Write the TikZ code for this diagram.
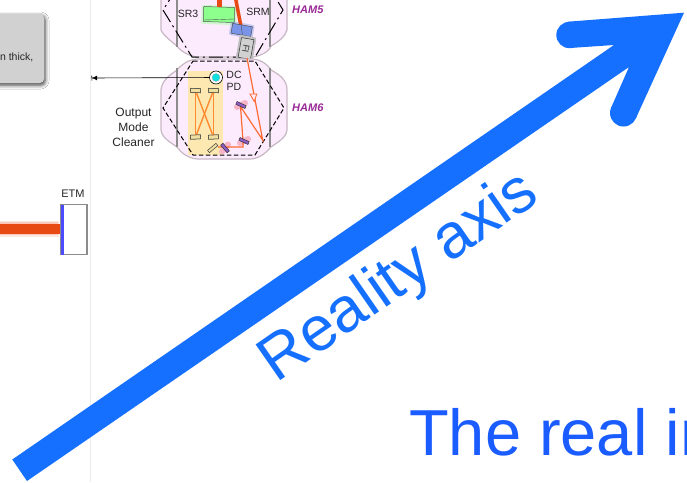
\documentclass[tikz,border=0pt]{standalone}
\usepackage{fontspec}
\setmainfont{Liberation Sans}
\usetikzlibrary{shadows.blur,arrows.meta,calc}
\definecolor{bigblue}{HTML}{1570FF}
\definecolor{realblue}{HTML}{1A5CFF}
\definecolor{chamber}{HTML}{FCEBFC}
\definecolor{chamberline}{HTML}{C8B8C4}
\definecolor{hamtext}{HTML}{992A96}
\definecolor{beam}{HTML}{FF6A33}
\definecolor{etmbeam}{HTML}{E84A14}
\definecolor{omcyellow}{HTML}{FCE8B0}
\definecolor{omcm}{HTML}{EFE0A0}
\definecolor{srmblue}{HTML}{7A95E8}
\definecolor{pdcyan}{HTML}{10E0E0}
\definecolor{omcorange}{HTML}{FF8A30}
\definecolor{mglow}{HTML}{F6B4C8}
\definecolor{mpurple}{HTML}{8E5CC8}
\tikzset{
  lbl/.style={font=\fontsize{10.5}{12}\selectfont,text=black!85,inner sep=0pt,align=center},
  hamlbl/.style={font=\fontsize{11}{12}\selectfont\bfseries\itshape,text=hamtext,inner sep=0pt,anchor=west},
  chamberfill/.style={fill=chamber,draw=chamberline,line width=1.2pt},
  post/.style={draw=black!45,line width=1.6pt},
  omcmirror/.style={draw=black!75,fill=omcm,line width=.5pt,minimum width=10pt,minimum height=4pt,inner sep=0pt},
  pinkmirror/.style={draw=black!80,fill=mpurple,line width=.5pt,minimum width=10pt,minimum height=3pt,inner sep=0pt},
  glowm/.style={draw=mglow,line width=6pt,line cap=round},
  ray/.style={draw=beam,line width=1.2pt},
  omcray/.style={draw=omcorange,line width=1.4pt},
  bigtext/.style={inner sep=0pt,anchor=base west}
}
\begin{document}
\begin{tikzpicture}[x=1pt,y=-1pt,every node/.style={anchor=center}]
\useasboundingbox (0,0) rectangle (687,482);
\clip (0,0) rectangle (687,482);
\fill[white] (0,0) rectangle (687,482);
\draw[black!8,line width=.6pt] (90.5,0) -- (90.5,482);
% grey note
\node[fill=black!18,rounded corners=4pt,minimum width=64pt,minimum height=69pt,inner sep=0pt,
  blur shadow={shadow xshift=1pt,shadow yshift=-2pt,shadow blur radius=4pt,shadow opacity=80}] (note) at (12,48.5) {};
\node[font=\fontsize{10.5}{12}\selectfont,text=black!85,anchor=east,inner sep=0pt] (notetext) at (33.5,57) {n thick,};
% ETM
\fill[etmbeam,opacity=.12] (0,220.5) rectangle (58.5,236.5);
\fill[etmbeam,opacity=.2] (0,222) rectangle (58,235);
\node[fill=etmbeam,minimum width=60pt,minimum height=10pt,inner sep=0pt,anchor=west] (etmbeam) at (0,228.5) {};
\node[draw=black!45,fill=white,line width=.6pt,minimum width=27pt,minimum height=50pt,inner sep=0pt] (etm) at (74,229.5) {};
\fill[blue!70!white] (60.5,204.5) rectangle (63.5,254.5);
\draw[black!45,line width=.5pt] (86,204.5) -- (86,254.5);
\node[lbl,font=\fontsize{11}{13}\selectfont] (etmlabel) at (73,194) {ETM};
% HAM5
\path[chamberfill] (161,-5) -- (161,30) .. controls (163,35) and (172,42) .. (177,46) .. controls (181,52) and (190,56) .. (197,57) -- (253,57) .. controls (260,56) and (269,52) .. (271,46) .. controls (278,42) and (285,37) .. (287,30) -- (287,-5) -- cycle;
\draw[post] (177,0) -- (177,47);
\draw[post] (270,0) -- (270,47);
\draw[black,line width=1pt,dash pattern=on 14pt off 4pt on 2pt off 4pt] (176,-10) -- (163,10) -- (192,57) -- (255,57) -- (283,10) -- (272,-8);
% HAM5 items
\node[fill=green!30,minimum width=35pt,minimum height=19pt,rounded corners=2pt,inner sep=0pt,opacity=.6,rotate=-2] (sr3glow) at (219,15) {};
\node[draw=black!65,fill=green!45!white,line width=.5pt,minimum width=31pt,minimum height=15pt,inner sep=0pt,rotate=-2] (sr3) at (219,14.5) {};
\draw[black!65,line width=.4pt] (204,20) -- (235,19);
\fill[etmbeam] (216.7,-2) rectangle (221.7,7);
\coordinate (srmtop) at (235.5,-2);
\node[fill=srmblue,opacity=.4,minimum width=24pt,minimum height=14pt,rotate=-10,inner sep=0pt,rounded corners=2pt] (srmglow) at (241.7,30) {};
\draw[etmbeam,line width=3.5pt] (srmtop) -- (srmglow.center);
\node[draw=black!70,fill=srmblue,line width=.5pt,minimum width=20pt,minimum height=10pt,rotate=-10,inner sep=0pt] (srm) at (241.7,30) {};
\draw[black!70,line width=.4pt] (241,25) -- (242.5,35);
\node[fill=black!25,minimum width=17pt,minimum height=25pt,rotate=-10,inner sep=0pt,rounded corners=2pt] (figlow) at (246,48.5) {};
\node[draw=black!80,fill=black!18,line width=.5pt,minimum width=12.5pt,minimum height=20pt,rotate=-10,inner sep=0pt] (fi) at (246,48.5) {};
\node[font=\fontsize{9}{9}\selectfont,rotate=-100,text=black!80,inner sep=0pt] at (fi.center) {FI};
\node[lbl] (sr3label) at (188,14) {SR3};
\node[lbl] (srmlabel) at (258,12) {SRM};
\node[hamlbl] (ham5) at (292,10) {HAM5};
% HAM6
\path[chamberfill] (197,59) -- (253,59) .. controls (262,60) and (268,65) .. (271,70) .. controls (280,75) and (287,80) .. (287,90) -- (287,130) .. controls (286,138) and (278,142) .. (271,147) .. controls (265,154) and (258,159) .. (250,159) -- (197,159) .. controls (188,158) and (181,153) .. (177,147) .. controls (170,142) and (162,138) .. (161,130) -- (161,90) .. controls (162,80) and (170,75) .. (177,70) .. controls (182,64) and (188,60) .. (197,59) -- cycle;
\draw[post] (177,68) -- (177,147);
\draw[post] (270,68) -- (270,147);
\node[fill=omcyellow,minimum width=35pt,minimum height=84pt,inner sep=0pt] (omcbox) at (205,113) {};
\draw[black,line width=1pt,dash pattern=on 4.5pt off 2.5pt] (193,61) -- (255,61) -- (284,108) -- (255,155) -- (193,155) -- (163,108) -- cycle;
\node[hamlbl] (ham6) at (292,108) {HAM6};
% OMC
\node[omcmirror,rotate=-3] (m1) at (195.5,90.5) {};
\node[omcmirror,rotate=-3] (m2) at (213.5,90.5) {};
\node[omcmirror,rotate=3] (m3) at (195.5,137) {};
\node[omcmirror,rotate=3] (m4) at (213.5,137) {};
\draw[omcray] (m1.center) -- (m3.center);
\draw[omcray] (m2.center) -- (m4.center);
\draw[omcray] (m1.center) -- (m4.center);
\draw[omcray] (m2.center) -- (m3.center);
\node[omcmirror,rotate=-3] at (m1) {};
\node[omcmirror,rotate=-3] at (m2) {};
\node[omcmirror,rotate=3] at (m3) {};
\node[omcmirror,rotate=3] at (m4) {};
% steering mirrors
\draw[glowm] (237,107) -- (245,103);
\draw[glowm] (240,143) -- (248,139);
\draw[glowm] (222,151.5) -- (228,144.5);
\coordinate (bounce) at (262.7,140);
\coordinate (fiexit) at (247,58);
\coordinate (corner) at (243,147);
\node[omcmirror,rotate=40,minimum width=11pt,minimum height=3pt] (m5) at (212.7,148) {};
\draw[ray] (fiexit) -- (bounce) -- (240.5,106.5) -- (243,141) -- (corner) -- (218,147);
\node[pinkmirror,rotate=-25] (p1) at (241,105) {};
\node[pinkmirror,rotate=-25] (p2) at (244,141) {};
\node[pinkmirror,rotate=-50] (p3) at (225,148) {};
\draw[beam,line width=.9pt,fill=chamber] (250,94) -- (256.7,94) -- (254.3,101.5) -- cycle;
% DC PD
\node[circle,draw=black,fill=white,line width=.6pt,minimum size=13pt,inner sep=0pt] (pdo) at (216,77.5) {};
\node[circle,draw=black!35,fill=pdcyan,line width=.3pt,minimum size=8pt,inner sep=0pt] (pd) at (216,77.5) {};
\node[lbl] (dc) at (234,74.5) {DC};
\node[lbl] (pdl) at (234,87) {PD};
\node[font=\fontsize{12}{15}\selectfont,text=black!85,inner sep=0pt,align=center] (omclabel) at (133.5,127) {Output\\Mode\\Cleaner};
\coordinate (dcout) at (91.5,78);
\draw[black,line width=.6pt,-{Latex[length=5pt,width=5pt]Bar[width=5pt]}] (pdo) -- (dcout);
% big arrow (filled outline with rounded barbs)
\fill[bigblue] (12.3,459.5) -- (614,45) -- (570,48) -- (568,21.7) -- (684,12.7) -- (636,118) -- (611,108) -- (629,67) -- (27,481) -- cycle;
\fill[bigblue] (569.5,35) circle[radius=13.2pt];
\fill[bigblue] (623.5,113) circle[radius=13.5pt];
\node[bigtext,rotate=34.7,text=bigblue,font=\fontsize{63}{70}\selectfont] (axis) at (276.5,383.5) {Reality axis};
\node[bigtext,text=realblue,font=\fontsize{65}{80}\selectfont] (real) at (409,455) {The real in};
\end{tikzpicture}
\end{document}
